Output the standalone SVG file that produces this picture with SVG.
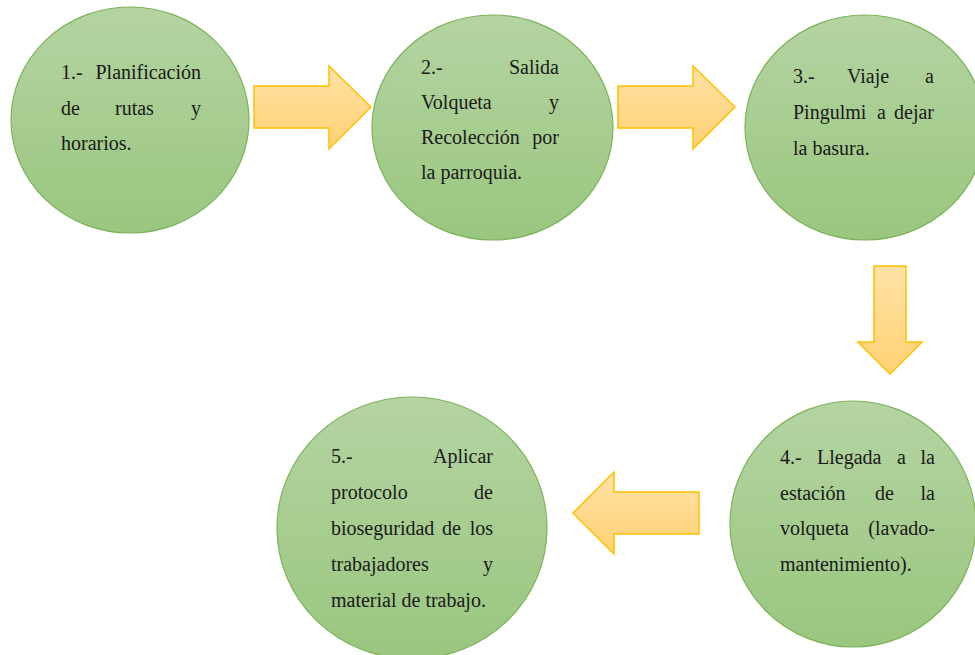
<svg xmlns="http://www.w3.org/2000/svg" width="975" height="655" viewBox="0 0 975 655">
<defs>
<linearGradient id="gCircle" x1="0" y1="0" x2="0" y2="1">
<stop offset="0" stop-color="#B4D4A2"/>
<stop offset="1" stop-color="#9AC67F"/>
</linearGradient>
<linearGradient id="gArrow" x1="0" y1="0" x2="0" y2="1">
<stop offset="0" stop-color="#FFE2A6"/>
<stop offset="1" stop-color="#FFD274"/>
</linearGradient>
<style>
.node ellipse{fill:url(#gCircle);stroke:#7CB35B;stroke-width:1.2}
.arrow{fill:url(#gArrow);stroke:#FFC000;stroke-width:1.5;stroke-linejoin:miter}
text{font-family:"Liberation Serif","Times New Roman",serif;font-size:20px;fill:#1a1a1a}
.e{text-anchor:end}
</style>
</defs>
<rect width="975" height="655" fill="#ffffff"/>
<g id="connectors">
<polygon class="arrow" points="254,86 329,86 329,66 371,107 329,149 329,128 254,128"/>
<polygon class="arrow" points="618,86 693,86 693,66 735,107 693,149 693,128 618,128"/>
<polygon class="arrow" points="874,266 906,266 906,342 922,342 890,374 858,342 874,342"/>
<polygon class="arrow" points="699,492 614,492 614,472 573,513 614,554 614,534 699,534"/>
</g>
<g id="node1" class="node">
<ellipse cx="130" cy="120" rx="119" ry="113"/>
<text x="61" y="79">1.-</text><text class="e" x="201" y="79">Planificación</text>
<text x="61" y="115">de</text><text x="115" y="115">rutas</text><text class="e" x="201" y="115">y</text>
<text x="61" y="150">horarios.</text>
</g>
<g id="node2" class="node">
<ellipse cx="492.5" cy="127.5" rx="120.5" ry="112.5"/>
<text x="421" y="74">2.-</text><text class="e" x="559" y="74">Salida</text>
<text x="421" y="109">Volqueta</text><text class="e" x="559" y="109">y</text>
<text x="421" y="144">Recolección</text><text class="e" x="559" y="144">por</text>
<text x="421" y="179">la parroquia.</text>
</g>
<g id="node3" class="node">
<ellipse cx="865" cy="127.5" rx="120" ry="112.5"/>
<text x="793" y="83">3.-</text><text x="847" y="83">Viaje</text><text class="e" x="934" y="83">a</text>
<text x="793" y="119">Pingulmi</text><text x="877" y="119">a</text><text class="e" x="934" y="119">dejar</text>
<text x="793" y="155">la basura.</text>
</g>
<g id="node4" class="node">
<ellipse cx="853" cy="524" rx="123" ry="123"/>
<text x="780" y="464">4.-</text><text x="817" y="464">Llegada</text><text x="897" y="464">a</text><text class="e" x="935" y="464">la</text>
<text x="780" y="500">estación</text><text x="875" y="500">de</text><text class="e" x="935" y="500">la</text>
<text x="780" y="535">volqueta</text><text class="e" x="935" y="535">(lavado-</text>
<text x="780" y="571">mantenimiento).</text>
</g>
<g id="node5" class="node">
<ellipse cx="412" cy="528" rx="135" ry="131"/>
<text x="331" y="463">5.-</text><text class="e" x="493" y="463">Aplicar</text>
<text x="331" y="499">protocolo</text><text class="e" x="493" y="499">de</text>
<text x="331" y="535">bioseguridad</text><text x="442" y="535">de</text><text class="e" x="493" y="535">los</text>
<text x="331" y="571">trabajadores</text><text class="e" x="493" y="571">y</text>
<text x="331" y="607">material de trabajo.</text>
</g>
</svg>
